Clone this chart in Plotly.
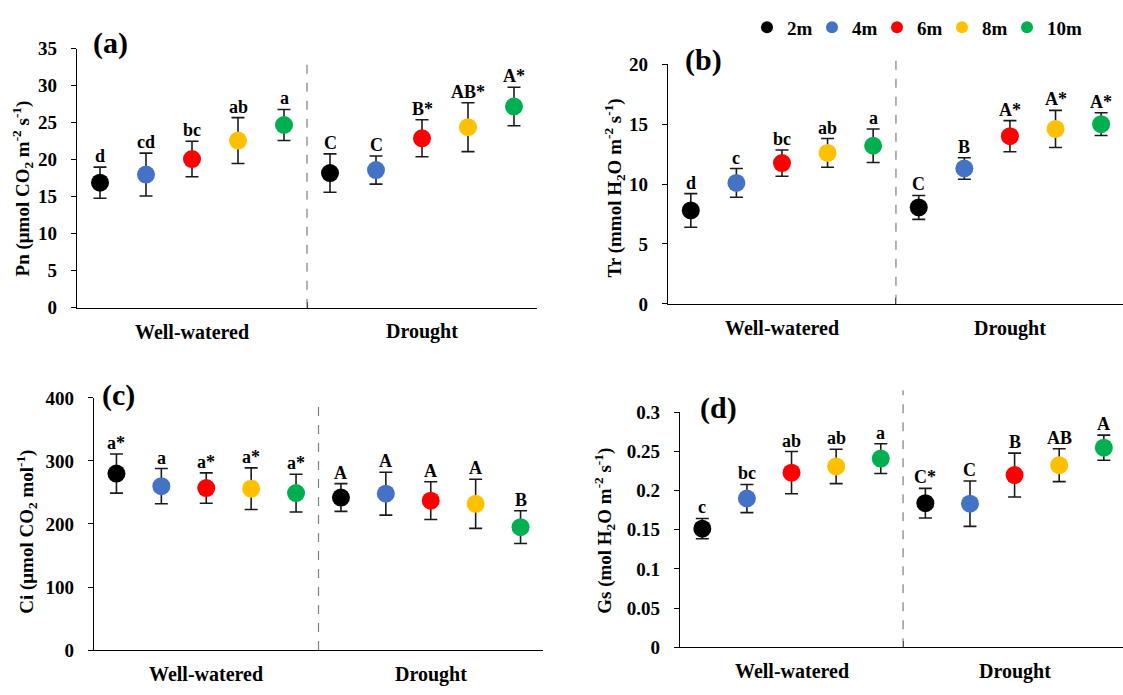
import plotly.graph_objects as go

depths = ["2m", "4m", "6m", "8m", "10m"]
colors = ["#000000", "#4472C4", "#FF0000", "#FFC000", "#00B050"]
groups = ["Well-watered", "Drought"]

# values: [Well-watered, Drought] for each depth
pn_mean = [[16.9, 18.2], [18.0, 18.6], [20.1, 22.9], [22.6, 24.4], [24.7, 27.2]]
pn_sd = [[2.1, 2.6], [2.9, 1.9], [2.4, 2.5], [3.1, 3.3], [2.1, 2.6]]
pn_lab = [["d", "C"], ["cd", "C"], ["bc", "B*"], ["ab", "AB*"], ["a", "A*"]]

tr_mean = [[7.8, 8.05], [10.1, 11.3], [11.75, 14.0], [12.6, 14.6], [13.2, 15.0]]
tr_sd = [[1.4, 1.0], [1.2, 0.9], [1.1, 1.3], [1.2, 1.55], [1.4, 0.95]]
tr_lab = [["d", "C"], ["c", "B"], ["bc", "A*"], ["ab", "A*"], ["a", "A*"]]

ci_mean = [[280, 242], [260, 248], [257, 237], [256, 232], [249, 195]]
ci_sd = [[31, 22], [28, 34], [24, 30], [33, 39], [30, 26]]
ci_lab = [["a*", "A"], ["a", "A"], ["a*", "A"], ["a*", "A"], ["a*", "B"]]

gs_mean = [[0.1515, 0.184], [0.190, 0.1834], [0.223, 0.220], [0.231, 0.2326], [0.241, 0.255]]
gs_sd = [[0.013, 0.019], [0.018, 0.029], [0.027, 0.028], [0.022, 0.021], [0.019, 0.016]]
gs_lab = [["c", "C*"], ["bc", "C"], ["ab", "B"], ["ab", "AB"], ["a", "A"]]

W, H = 1123, 695
FONT = "Liberation Serif"

panels = [
    dict(name="(a)", mean=pn_mean, sd=pn_sd, lab=pn_lab, yr=[0, 35], dt=5,
         xpx=(77, 537), ypx=(40, 307), xr=[0, 10],
         title="Pn (μmol CO<sub>2</sub> m<sup>-2</sup> s<sup>-1</sup>)",
         tx=22, ty=184, lx=110, ly=34, cy=332, dash_top=48),
    dict(name="(b)", mean=tr_mean, sd=tr_sd, lab=tr_lab, yr=[0, 20], dt=5,
         xpx=(668, 1123), ypx=(56, 303), xr=[0, 9.98],
         title="Tr (mmol H<sub>2</sub>O m<sup>-2</sup> s<sup>-1</sup>)",
         tx=614, ty=184, lx=703, ly=52, cy=328, dash_top=47),
    dict(name="(c)", mean=ci_mean, sd=ci_sd, lab=ci_lab, yr=[0, 400], dt=100,
         xpx=(94, 543), ypx=(400, 660), xr=[0, 10],
         title="Ci (μmol CO<sub>2</sub> mol<sup>-1</sup>)",
         tx=27, ty=538, lx=118, ly=397, cy=685, dash_top=403),
    dict(name="(d)", mean=gs_mean, sd=gs_sd, lab=gs_lab, yr=[0, 0.3], dt=0.05,
         xpx=(680, 1123), ypx=(415, 657), xr=[0, 9.93],
         title="Gs (mol H<sub>2</sub>O m<sup>-2</sup> s<sup>-1</sup>)",
         tx=605, ty=537, lx=718, ly=410, cy=682, dash_top=392),
]

fig = go.Figure()
annotations = []
shapes = []

for pi, p in enumerate(panels):
    k = "" if pi == 0 else str(pi + 1)
    xa, ya = "x" + k, "y" + k
    for di, d in enumerate(depths):
        xs = [di + 0.5, 5 + di + 0.5]
        fig.add_trace(go.Scatter(
            x=xs, y=p["mean"][di], mode="markers", name=d,
            marker=dict(size=18, color=colors[di]),
            error_y=dict(type="data", array=p["sd"][di], color="#1a1a1a",
                         thickness=1.6, width=6.5),
            xaxis=xa, yaxis=ya, showlegend=(pi == 0), legendgroup=d,
            legendwidth=(45 if di == len(depths) - 1 else None)))
        for gi in range(2):
            annotations.append(dict(
                x=xs[gi], y=p["mean"][di][gi] + p["sd"][di][gi], xref=xa, yref=ya,
                text="<b>%s</b>" % p["lab"][di][gi], showarrow=False,
                yanchor="bottom", xanchor="center", yshift=-1,
                font=dict(family=FONT, size=18, color="black")))
    x0, x1 = p["xpx"]
    y0, y1 = p["ypx"]
    dom_x = [x0 / W, min(1.0, x1 / W)]
    dom_y = [1 - y1 / H, 1 - y0 / H]
    fig.layout["xaxis" + k] = dict(
        domain=dom_x, range=p["xr"], anchor=ya, showline=True, linecolor="black",
        linewidth=1.3, showgrid=False, zeroline=False, showticklabels=False,
        tickvals=[0, 5, 10], ticks="inside", ticklen=6, tickcolor="black", tickwidth=1.3)
    fig.layout["yaxis" + k] = dict(
        domain=dom_y, range=p["yr"], dtick=p["dt"], anchor=xa, showline=True,
        linecolor="black", linewidth=1.3, showgrid=False, zeroline=False,
        ticks="outside", ticklen=5, tickcolor="black", tickwidth=1.3,
        ticklabelstandoff=10,
        tickfont=dict(family=FONT, size=19, color="black", weight="bold"))
    # y title
    annotations.append(dict(
        x=p["tx"] / W, y=1 - p["ty"] / H, xref="paper", yref="paper",
        text="<b>%s</b>" % p["title"], showarrow=False, textangle=-90,
        xanchor="center", yanchor="middle",
        font=dict(family=FONT, size=19, color="black")))
    # panel label
    annotations.append(dict(
        x=p["lx"] / W, y=1 - p["ly"] / H, xref="paper", yref="paper",
        text="<b>%s</b>" % p["name"], showarrow=False,
        xanchor="center", yanchor="middle",
        font=dict(family=FONT, size=30, color="black")))
    # category labels
    for gi, g in enumerate(groups):
        annotations.append(dict(
            x=2.5 + 5 * gi, y=1 - p["cy"] / H, xref=xa, yref="paper",
            text="<b>%s</b>" % g, showarrow=False,
            xanchor="center", yanchor="middle",
            font=dict(family=FONT, size=20, color="black")))
    # dashed separator
    shapes.append(dict(
        type="line", xref=xa, yref="paper", x0=5, x1=5,
        y0=dom_y[0], y1=1 - p["dash_top"] / H,
        line=dict(color="#7f7f7f", width=1.2, dash="dash")))

fig.update_layout(
    width=W, height=H, margin=dict(l=0, r=0, t=0, b=0),
    plot_bgcolor="white", paper_bgcolor="white",
    annotations=annotations, shapes=shapes,
    showlegend=True,
    legend=dict(orientation="h", x=747 / W, y=1 - 18 / H, xanchor="left",
                yanchor="middle", itemsizing="constant", entrywidth=20,
                bgcolor="rgba(0,0,0,0)", borderwidth=0,
                font=dict(family=FONT, size=19, color="black", weight="bold")),
)

fig.write_html("out.html", config={"displayModeBar": False},
               post_script="document.body.style.margin='0';document.body.style.padding='0';")
